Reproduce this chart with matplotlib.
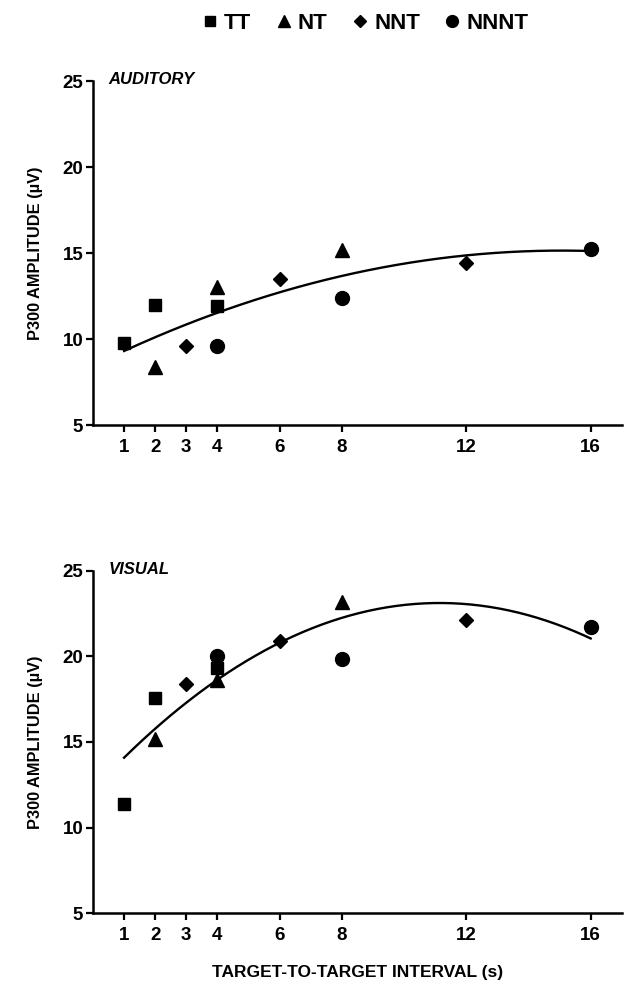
import matplotlib
matplotlib.use("Agg")
import matplotlib.pyplot as plt
import numpy as np

plt.rcParams['font.family'] = ['Liberation Sans', 'DejaVu Sans']
plt.rcParams['font.weight'] = 'bold'

# target-to-target interval (s) for each sequence type
tt_x = [1, 2, 4]
nt_x = [2, 4, 8]
nnt_x = [3, 6, 12]
nnnt_x = [4, 8, 16]

# auditory P300 amplitude (uV)
aud_tt = [9.75, 12.0, 11.9]
aud_nt = [8.35, 13.05, 15.15]
aud_nnt = [9.6, 13.5, 14.4]
aud_nnnt = [9.6, 12.4, 15.25]

# visual P300 amplitude (uV)
vis_tt = [11.4, 17.55, 19.3]
vis_nt = [15.15, 18.65, 23.2]
vis_nnt = [18.4, 20.9, 22.15]
vis_nnnt = [20.0, 19.85, 21.75]

xticks = [1, 2, 3, 4, 6, 8, 12, 16]
yticks = [5, 10, 15, 20, 25]

fig = plt.figure(figsize=(6.41, 10), dpi=100)
ax1 = fig.add_axes([0.145, 0.575, 0.825, 0.344])
ax2 = fig.add_axes([0.145, 0.087, 0.825, 0.342])

def panel(ax, tt, nt, nnt, nnnt, name):
    ms = dict(color='black', linestyle='none', clip_on=False)
    ax.plot(tt_x, tt, marker='s', markersize=8, **ms)
    ax.plot(nt_x, nt, marker='^', markersize=10, **ms)
    ax.plot(nnt_x, nnt, marker='D', markersize=7, **ms)
    ax.plot(nnnt_x, nnnt, marker='o', markersize=10, **ms)
    # second order polynomial fit through all points
    xs = np.array(tt_x + nt_x + nnt_x + nnnt_x, dtype=float)
    ys = np.array(tt + nt + nnt + nnnt, dtype=float)
    c = np.polyfit(xs, ys, 2)
    xf = np.linspace(1, 16, 200)
    ax.plot(xf, np.polyval(c, xf), color='black', linewidth=1.7)
    ax.set_xlim(0, 17)
    ax.set_ylim(5, 25)
    ax.set_xticks(xticks)
    ax.set_yticks(yticks)
    ax.tick_params(labelsize=13.5, width=1.6, length=5, pad=2)
    ax.tick_params(axis='x', pad=5)
    for s in ['top', 'right']:
        ax.spines[s].set_visible(False)
    for s in ['left', 'bottom']:
        ax.spines[s].set_linewidth(1.8)
    ax.set_ylabel('P300 AMPLITUDE (µV)', fontsize=11.8, fontweight='bold', labelpad=14)
    ax.text(0.03, 1.005, name, transform=ax.transAxes, fontsize=12,
            fontweight='bold', fontstyle='italic', va='center')

panel(ax1, aud_tt, aud_nt, aud_nnt, aud_nnnt, 'AUDITORY')
panel(ax2, vis_tt, vis_nt, vis_nnt, vis_nnnt, 'VISUAL')
ax2.set_xlabel('TARGET-TO-TARGET INTERVAL (s)', fontsize=12.5, fontweight='bold', labelpad=15)

# legend across the top
handles = [plt.Line2D([], [], color='black', ls='none', marker=m, markersize=s)
           for m, s in [('s', 6.5), ('^', 8), ('D', 6.5), ('o', 8.5)]]
fig.legend(handles, ['TT', 'NT', 'NNT', 'NNNT'], loc='upper center',
           bbox_to_anchor=(0.57, 1.007), ncol=4, frameon=False,
           prop={'size': 16, 'weight': 'bold'}, handlelength=0.7,
           handletextpad=0.3, columnspacing=1.1)

fig.savefig('out.png', dpi=100)
